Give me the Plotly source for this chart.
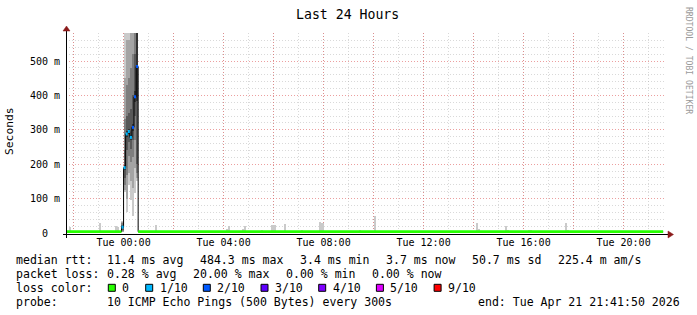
import plotly.graph_objects as go
import pandas as pd

# ---------------- data ----------------
WINDOW_START = "2026-04-20 21:41:50"
WINDOW_END = "2026-04-21 21:41:50"
STEP_MINUTES = 5

# median rtt per period (ms) and packet loss (lost pings out of 10)
median_start = ["2026-04-20 21:41:50", "2026-04-20 23:55", "2026-04-21 00:00", "2026-04-21 00:05",
                "2026-04-21 00:10", "2026-04-21 00:15", "2026-04-21 00:20", "2026-04-21 00:25",
                "2026-04-21 00:30", "2026-04-21 00:35"]
median_end = ["2026-04-20 23:55", "2026-04-21 00:00", "2026-04-21 00:05", "2026-04-21 00:10",
              "2026-04-21 00:15", "2026-04-21 00:20", "2026-04-21 00:25", "2026-04-21 00:30",
              "2026-04-21 00:35", "2026-04-21 21:35"]
median_ms = [3.7, 17, 190, 288, 295, 278, 307, 396, 484, 3.7]
median_loss = [0, 1, 1, 1, 1, 1, 2, 2, 2, 0]

loss_levels = [0, 1, 2, 3, 4, 5, 9]
loss_labels = ["0", "1/10", "2/10", "3/10", "4/10", "5/10", "9/10"]
loss_colors = ["#26ff00", "#00b8ff", "#0059ff", "#5e00ff", "#7e00ff", "#dd00ff", "#ff0000"]

# smoke (sorted ping rtts, ms) for the disturbed steps
smoke_steps = ["2026-04-20 23:55", "2026-04-21 00:00", "2026-04-21 00:05", "2026-04-21 00:10",
               "2026-04-21 00:15", "2026-04-21 00:20", "2026-04-21 00:25", "2026-04-21 00:30"]
smoke_pings_ms = [
    [3, 4, 5, 8, 15, 19, 24, 28, 32, 36],
    [118, 125, 140, 160, 182, 198, 240, 330, 450, 700],
    [60, 100, 170, 240, 280, 296, 340, 430, 560, 750],
    [140, 175, 225, 265, 288, 302, 350, 450, 560, 800],
    [95, 150, 205, 245, 270, 286, 360, 480, 650, 800],
    [50, 130, 220, 270, 297, 317, 400, 520, 680, 900],
    [115, 190, 270, 340, 380, 412, 520, 620, 760, 950],
    [150, 160, 175, 200, 385, 583, 700, 800, 900, 1000],
]
smoke_shades = ["#cacaca", "#a4a4a4", "#7e7e7e", "#585858", "#323232"]

# isolated slow pings during quiet periods (step start, slowest ping ms)
outlier_steps = ["2026-04-20 21:50", "2026-04-20 23:00", "2026-04-20 23:40", "2026-04-20 23:45",
                 "2026-04-21 01:15", "2026-04-21 04:05", "2026-04-21 04:10", "2026-04-21 04:45",
                 "2026-04-21 04:50", "2026-04-21 05:30", "2026-04-21 05:55", "2026-04-21 06:00",
                 "2026-04-21 06:25", "2026-04-21 07:05", "2026-04-21 07:50", "2026-04-21 07:55",
                 "2026-04-21 09:25", "2026-04-21 10:00", "2026-04-21 14:05", "2026-04-21 14:10",
                 "2026-04-21 15:15", "2026-04-21 15:20", "2026-04-21 16:10", "2026-04-21 16:15",
                 "2026-04-21 17:40", "2026-04-21 17:45"]
outlier_max_ms = [18, 29, 20, 18, 24, 13, 19, 13, 20, 9, 23, 23, 26, 6, 33, 28, 7, 50, 30, 12,
                  21, 9, 6, 6, 30, 8]
outlier_min_ms = 3

ytick_vals = [0, 0.1, 0.2, 0.3, 0.4, 0.5]
ytick_text = ["0\u00a0\u00a0", "100 m", "200 m", "300 m", "400 m", "500 m"]
xtick_vals = ["2026-04-20 22:00", "2026-04-21 00:00", "2026-04-21 02:00", "2026-04-21 04:00",
              "2026-04-21 06:00", "2026-04-21 08:00", "2026-04-21 10:00", "2026-04-21 12:00",
              "2026-04-21 14:00", "2026-04-21 16:00", "2026-04-21 18:00", "2026-04-21 20:00"]
xtick_text = ["", "Tue 00:00", "", "Tue 04:00", "", "Tue 08:00", "", "Tue 12:00", "",
              "Tue 16:00", "", "Tue 20:00"]

stat_line1 = [("median rtt:", 16.7), ("11.4 ms avg", 107.3), ("484.3 ms max", 200.3),
              ("3.4 ms min", 300.2), ("3.7 ms now", 386.2), ("50.7 ms sd", 472.2),
              ("225.4 m am/s", 558.2)]
stat_line2 = [("packet loss:", 16.7), ("0.28 % avg", 107.3), ("20.00 % max", 193.3),
              ("0.00 % min", 286.5), ("0.00 % now", 372.5)]
probe_line = [("probe:", 16.7), ("10 ICMP Echo Pings (500 Bytes) every 300s", 107.3),
              ("end: Tue Apr 21 21:41:50 2026", 478.3)]
loss_box_x = [108.3, 145.7, 203.3, 261.0, 318.7, 376.4, 434.1]

# ---------------- layout helpers ----------------
W, H = 697, 315
L, R, T, B = 66, 31, 33, 82
PW, PH = W - L - R, H - T - B
YMAX = 0.5814
MONO = "DejaVu Sans Mono"
FS = 11.55


def pxx(x):
    return (x - L) / PW


def pxy(y):
    return (T + PH - y) / PH


step = pd.Timedelta(minutes=STEP_MINUTES)
half = step / 2
width_ms = step.total_seconds() * 1000

fig = go.Figure()

# smoke bands
centers = [pd.Timestamp(s) + half for s in smoke_steps]
for k in range(5):
    base = [p[k] / 1000 for p in smoke_pings_ms]
    hgt = [(p[9 - k] - p[k]) / 1000 for p in smoke_pings_ms]
    fig.add_trace(go.Bar(x=centers, y=hgt, base=base, width=[width_ms] * len(centers),
                         marker=dict(color=smoke_shades[k], line=dict(width=0)),
                         showlegend=False, hoverinfo="skip"))

# outliers (outer smoke band)
oc = [pd.Timestamp(s) + half for s in outlier_steps]
fig.add_trace(go.Bar(x=oc, y=[(v - outlier_min_ms) / 1000 for v in outlier_max_ms],
                     base=[outlier_min_ms / 1000] * len(oc), width=[width_ms] * len(oc),
                     marker=dict(color=smoke_shades[0], line=dict(width=0)),
                     showlegend=False, hoverinfo="skip"))

# black median line (step)
mx = list(median_start) + [median_end[-1]]
my = [v / 1000 for v in median_ms] + [median_ms[-1] / 1000]
fig.add_trace(go.Scatter(x=mx, y=my, mode="lines", line=dict(color="#000000", width=1, shape="hv"),
                         showlegend=False, hoverinfo="skip"))

# colored median by loss
for lvl, col in zip(loss_levels, loss_colors):
    xs, ys = [], []
    for s, e, v, l in zip(median_start, median_end, median_ms, median_loss):
        if l == lvl:
            xs += [s, e, None]
            ys += [v / 1000, v / 1000, None]
    if xs:
        fig.add_trace(go.Scatter(x=xs, y=ys, mode="lines", line=dict(color=col, width=3),
                                 connectgaps=False, showlegend=False, hoverinfo="skip"))

minor_grid = "rgba(160,160,160,0.40)"
major_grid = "rgba(220,80,80,0.55)"

# minor y grid every 20 m, skipping the labelled 100 m lines
y_minor = [i * 0.02 for i in range(1, 30) if i % 5 != 0]

fig.update_layout(
    width=W, height=H, margin=dict(l=L, r=R, t=T, b=B, pad=0),
    paper_bgcolor="white", plot_bgcolor="white", barmode="overlay", bargap=0,
    showlegend=False,
    font=dict(family=MONO, size=10, color="#000000"),
    xaxis=dict(type="date", range=[WINDOW_START, WINDOW_END], tickmode="array",
               tickvals=xtick_vals, ticktext=xtick_text, showgrid=True, gridcolor=major_grid,
               griddash="1px,2px", gridwidth=1, zeroline=False, showline=False, ticks="",
               tickfont=dict(family=MONO, size=10, color="#000"), ticklabelstandoff=2,
               minor=dict(dtick=3600000, tick0="2026-04-21 00:00", showgrid=True,
                          gridcolor=minor_grid, griddash="1px,2px", gridwidth=1)),
    yaxis=dict(range=[0, YMAX], tickmode="array", tickvals=ytick_vals, ticktext=ytick_text,
               showgrid=True, gridcolor=major_grid, griddash="1px,2px", gridwidth=1,
               zeroline=False, showline=False, ticks="",
               tickfont=dict(family=MONO, size=10, color="#000"), ticklabelstandoff=5,
               minor=dict(tickmode="array", tickvals=y_minor, showgrid=True, gridcolor=minor_grid,
                          griddash="1px,2px", gridwidth=1)),
)

shapes = []
ann = []
AXC = "#000000"
ARC = "#8b1a1a"
# axes
shapes.append(dict(type="line", xref="paper", yref="paper", x0=pxx(63), x1=pxx(668),
                   y0=pxy(234.5), y1=pxy(234.5), line=dict(color=AXC, width=1)))
shapes.append(dict(type="line", xref="paper", yref="paper", x0=pxx(66.5), x1=pxx(66.5),
                   y0=pxy(238), y1=pxy(30), line=dict(color=AXC, width=1)))
# arrows
shapes.append(dict(type="path", xref="paper", yref="paper",
                   path=f"M {pxx(668)} {pxy(231)} L {pxx(668)} {pxy(238)} L {pxx(673.5)} {pxy(234.5)} Z",
                   fillcolor=ARC, line=dict(color=ARC, width=0.5)))
shapes.append(dict(type="path", xref="paper", yref="paper",
                   path=f"M {pxx(63)} {pxy(31)} L {pxx(70)} {pxy(31)} L {pxx(66.5)} {pxy(26)} Z",
                   fillcolor=ARC, line=dict(color=ARC, width=0.5)))


def text(t, x, y, size=FS, color="#000", anchor="left", angle=0):
    ann.append(dict(text=t, xref="paper", yref="paper", x=pxx(x), y=pxy(y), xanchor=anchor,
                    yanchor="middle", showarrow=False, borderpad=0, borderwidth=0,
                    textangle=angle, font=dict(family=MONO, size=size, color=color)))


# title, y label, watermark
text("Last 24 Hours", 347.7, 14, size=13.2, anchor="center")
text("Seconds", 9.5, 131.5, size=11.3, anchor="center", angle=-90)
text("RRDTOOL / TOBI OETIKER", 689, 60, size=8.1, color="#9a9a9a", anchor="center", angle=90)

# legend lines
ROWS = [260, 273.6, 287.7, 301.7]
for t, x in stat_line1:
    text(t, x - 0.7, ROWS[0])
for t, x in stat_line2:
    text(t, x - 0.7, ROWS[1])
text("loss color:", 16.0, ROWS[2])
for bx, lab, col in zip(loss_box_x, loss_labels, loss_colors):
    shapes.append(dict(type="rect", xref="paper", yref="paper", x0=pxx(bx), x1=pxx(bx + 7),
                       y0=pxy(291.3), y1=pxy(284.3), fillcolor=col,
                       line=dict(color="#000", width=1)))
    text(lab, bx + 14.0, ROWS[2])
for t, x in probe_line:
    text(t, x - 0.7, ROWS[3])

fig.update_layout(shapes=shapes, annotations=ann)
fig.write_html("out.html")
